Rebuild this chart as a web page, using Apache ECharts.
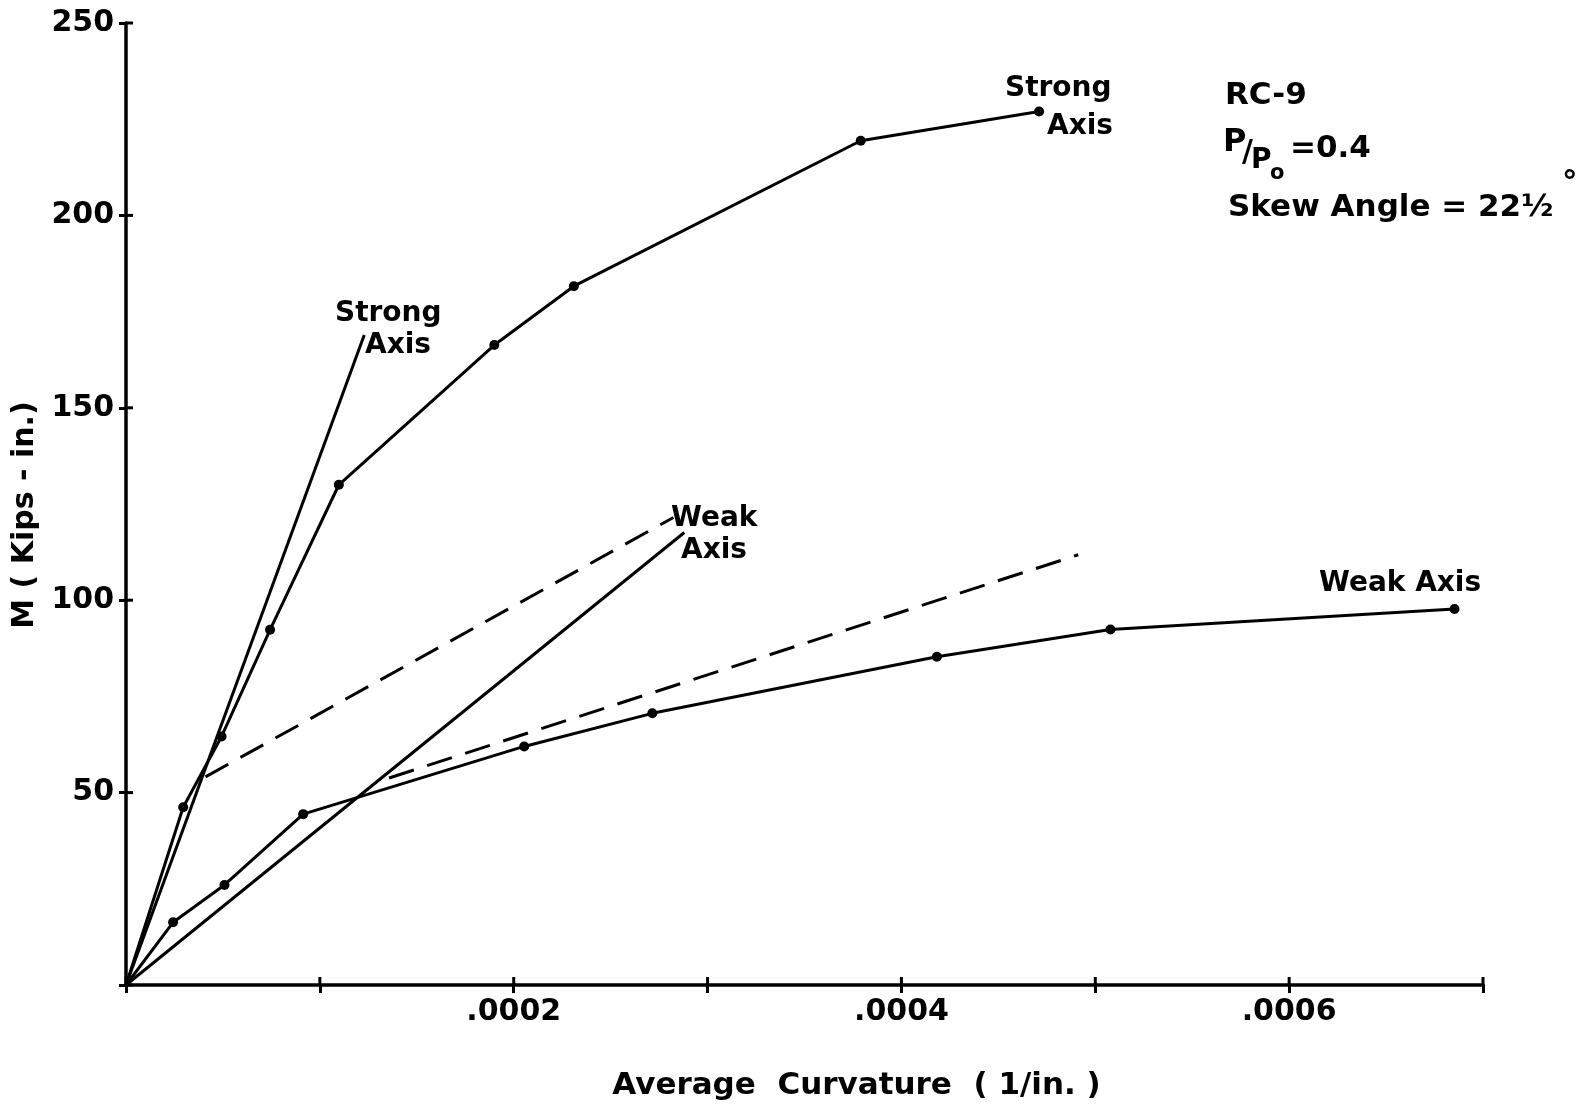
<!DOCTYPE html>
<html>
<head>
<meta charset="utf-8">
<script src="https://cdn.jsdelivr.net/npm/echarts@6/dist/echarts.min.js"></script>
<style>
  html, body { margin: 0; padding: 0; background: #fff; }
  #chart { width: 1585px; height: 1106px; }
</style>
</head>
<body>
<div id="chart"></div>
<script>
// moment-curvature data
const strongCurv = [0, 0.0000295, 0.0000493, 0.0000743, 0.0001098, 0.000190, 0.000231, 0.000379, 0.000471];
const strongMoment = [0, 46.2, 64.6, 92.3, 130.0, 166.3, 181.6, 219.4, 227.0];
const weakCurv = [0, 0.0000243, 0.0000508, 0.0000914, 0.0002054, 0.0002715, 0.0004183, 0.0005078, 0.0006853];
const weakMoment = [0, 16.3, 26.0, 44.4, 62.0, 70.6, 85.3, 92.4, 97.7];

// theoretical straight lines (solid, no dots)
const strongTheoryCurv = [0, 0.0001229];
const strongTheoryMoment = [0, 168.9];
const weakTheoryCurv = [0, 0.000288];
const weakTheoryMoment = [0, 117.6];

// dashed lines
const dashUpperCurv = [0.000041, 0.0002824];
const dashUpperMoment = [54.1, 121.5];
const dashLowerCurv = [0.0001357, 0.0004912];
const dashLowerMoment = [53.8, 111.8];

// ticks (the axis ticks cross the axis line on both sides)
const xTickValues = [0, 0.0001, 0.0002, 0.0003, 0.0004, 0.0005, 0.0006, 0.0007];
const yTickValues = [0, 50, 100, 150, 200, 250];
const xTickLabels = ['', '', '.0002', '', '.0004', '', '.0006', ''];
const yTickLabels = ['', '50', '100', '150', '200', '250'];

const pairs = (xs, ys) => xs.map((x, i) => [x, ys[i]]);

const chart = echarts.init(document.getElementById('chart'));

const FONT = 'DejaVu Sans';
const ink = '#000';

const solid = (data, dots) => ({
  type: 'line',
  data: data,
  symbol: 'circle',
  symbolSize: dots ? (v) => (v[0] === 0 ? 0 : 10) : 0,
  showSymbol: dots,
  itemStyle: { color: ink },
  lineStyle: { color: ink, width: 3 },
  silent: true,
  animation: false
});

const dashed = (data) => ({
  type: 'line',
  data: data,
  symbol: 'none',
  lineStyle: { color: ink, width: 3, type: [26, 14] },
  silent: true,
  animation: false
});

// inner half of the crossing ticks
const innerTicks = (data, dx, dy) => ({
  type: 'custom',
  data: data,
  silent: true,
  animation: false,
  clip: false,
  renderItem: (params, api) => {
    const p = api.coord([api.value(0), api.value(1)]);
    return {
      type: 'line',
      shape: { x1: p[0], y1: p[1], x2: p[0] + dx, y2: p[1] + dy },
      style: { stroke: ink, lineWidth: 3 }
    };
  }
});

const txt = (x, y, text, size) => ({
  type: 'text',
  x: x, y: y,
  style: {
    text: text,
    font: 'bold ' + size + 'px "' + FONT + '"',
    fill: ink,
    textVerticalAlign: 'middle'
  }
});

const option = {
  backgroundColor: '#fff',
  grid: { left: 126, right: 102, top: 23, bottom: 120 },
  xAxis: {
    type: 'value', min: 0, max: 0.0007, interval: 0.0001,
    splitLine: { show: false },
    name: 'Average  Curvature  ( 1/in. )',
    nameLocation: 'middle',
    nameGap: 85,
    nameTextStyle: { fontFamily: FONT, fontSize: 31, fontWeight: 'bold', color: ink, padding: [0, 0, 0, 104] },
    axisLine: { show: true, onZero: false, lineStyle: { color: ink, width: 3.5 } },
    axisTick: { show: true, lineStyle: { color: ink, width: 3 }, length: 8 },
    axisLabel: {
      fontFamily: FONT, fontSize: 30, fontWeight: 'bold', color: ink, margin: 12,
      formatter: (v, i) => xTickLabels[i] || ''
    }
  },
  yAxis: {
    type: 'value', min: 0, max: 250, interval: 50,
    splitLine: { show: false },
    name: 'M ( Kips - in.)',
    nameLocation: 'middle',
    nameGap: 78,
    nameRotate: 90,
    nameTextStyle: { fontFamily: FONT, fontSize: 30, fontWeight: 'bold', color: ink, padding: [0, 22, 0, 0] },
    axisLine: { show: true, onZero: false, lineStyle: { color: ink, width: 3.5 } },
    axisTick: { show: true, lineStyle: { color: ink, width: 3 }, length: 7 },
    axisLabel: {
      fontFamily: FONT, fontSize: 30, fontWeight: 'bold', color: ink, margin: 12,
      formatter: (v, i) => yTickLabels[i] || ''
    }
  },
  series: [
    solid(pairs(strongCurv, strongMoment), true),
    solid(pairs(weakCurv, weakMoment), true),
    solid(pairs(strongTheoryCurv, strongTheoryMoment), false),
    solid(pairs(weakTheoryCurv, weakTheoryMoment), false),
    dashed(pairs(dashUpperCurv, dashUpperMoment)),
    dashed(pairs(dashLowerCurv, dashLowerMoment)),
    innerTicks(xTickValues.map((v) => [v, 0]), 0, -8),
    innerTicks(yTickValues.map((v) => [0, v]), 7, 0)
  ],
  graphic: [
    txt(1005, 89, 'Strong', 28),
    txt(1047, 127, 'Axis', 28),
    txt(335, 314, 'Strong', 28),
    txt(365, 346, 'Axis', 28),
    txt(671, 519, 'Weak', 28),
    txt(681, 551, 'Axis', 28),
    txt(1319, 584, 'Weak Axis', 28),
    // specimen note
    txt(1225, 96, 'RC-9', 31),
    txt(1223, 143, 'P', 32),
    txt(1242, 153, '/', 30),
    txt(1251, 161, 'P', 28),
    txt(1270, 174, 'o', 21),
    txt(1290, 149, '=0.4', 31),
    txt(1228, 208, 'Skew Angle = 22\u00bd', 31),
    txt(1562, 184, '\u00b0', 31)
  ]
};

chart.setOption(option);
</script>
</body>
</html>
